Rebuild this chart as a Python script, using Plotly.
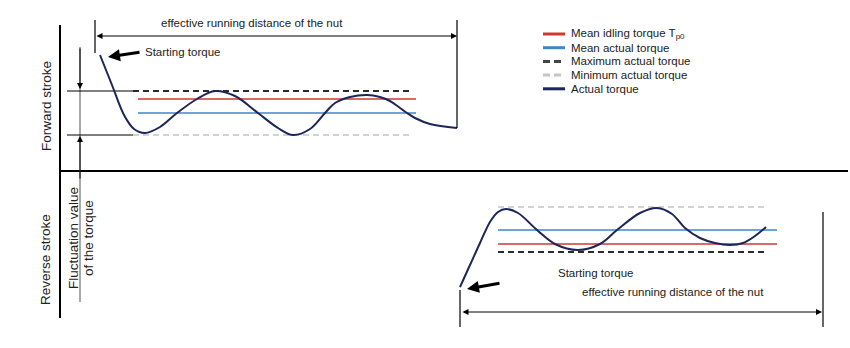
import plotly.graph_objects as go

FONT = "Liberation Sans, Arial, Helvetica, sans-serif"

# ---- data (schematic coordinates: x = travel, y measured downward) ----
fwd_x = [100, 112, 124, 134, 145, 160, 177, 197, 215, 235, 258, 278, 293, 310, 325, 335, 350, 367, 380, 390, 400, 407, 415, 430, 457]
fwd_y = [55, 85, 115, 129, 133, 127, 113, 99, 91, 96, 113, 128, 135, 129, 113, 103, 97, 95, 97, 101, 108, 113, 118, 124, 128]

rev_x = [460, 470, 480, 490, 498, 506, 518, 537, 555, 578, 600, 617, 640, 657, 672, 685, 700, 715, 730, 743, 755, 766]
rev_y = [287, 265, 243, 222, 212, 209, 213, 230, 244, 250, 244, 230, 213, 208, 214, 228, 238, 243, 245, 243, 236, 227]

# level lines: [x_start, x_end], level
fwd_max_x, fwd_max = [133, 412], 91
fwd_idle_x, fwd_idle = [138, 416], 99
fwd_mean_x, fwd_mean = [138, 416], 113
fwd_min_x, fwd_min = [133, 412], 135

rev_min_x, rev_min = [498, 767], 207
rev_mean_x, rev_mean = [498, 777], 230
rev_idle_x, rev_idle = [498, 777], 244
rev_max_x, rev_max = [498, 767], 252

legend_labels = ["Mean idling torque T<sub>p0</sub>", "Mean actual torque", "Maximum actual torque",
                 "Minimum actual torque", "Actual torque"]

RED = "#cc3a30"
BLUE = "#3f86c8"
NAVY = "#1d2658"
DARK = "#2a2a2a"
GREY = "#c4c4c4"
legend_colors = [RED, BLUE, "#444444", GREY, NAVY]
legend_dashes = ["solid", "solid", "dash", "dash", "solid"]

fig = go.Figure()


def line(x, y, color="black", width=1, dash="solid"):
    fig.add_trace(go.Scatter(x=x, y=y, mode="lines", showlegend=False, hoverinfo="skip",
                             line=dict(color=color, width=width, dash=dash)))


# frame axes
line([60, 60], [25, 318], width=2)
line([60, 848], [171, 171], width=2)

# fluctuation dimension
line([80, 80], [47, 302], color="#555555", width=1)
line([67, 133], [fwd_max, fwd_max], width=1)
line([67, 133], [fwd_min, fwd_min], width=1)

# forward level lines
line(fwd_max_x, [fwd_max] * 2, color=DARK, width=2, dash="6px,4px")
line(fwd_idle_x, [fwd_idle] * 2, color=RED, width=1.6)
line(fwd_mean_x, [fwd_mean] * 2, color=BLUE, width=1.6)
line(fwd_min_x, [fwd_min] * 2, color=GREY, width=1.6, dash="6px,4px")

# reverse level lines
line(rev_min_x, [rev_min] * 2, color=GREY, width=1.6, dash="6px,4px")
line(rev_mean_x, [rev_mean] * 2, color=BLUE, width=1.6)
line(rev_idle_x, [rev_idle] * 2, color=RED, width=1.6)
line(rev_max_x, [rev_max] * 2, color=DARK, width=2, dash="6px,4px")

# actual torque curves
fig.add_trace(go.Scatter(x=fwd_x, y=fwd_y, mode="lines", showlegend=False, hoverinfo="skip",
                         line=dict(color=NAVY, width=2, shape="spline", smoothing=1)))
fig.add_trace(go.Scatter(x=rev_x, y=rev_y, mode="lines", showlegend=False, hoverinfo="skip",
                         line=dict(color=NAVY, width=2, shape="spline", smoothing=1)))

# effective running distance markers
line([95, 95], [20, 53], width=1.2)
line([457, 457], [20, fwd_y[-1]], width=1.2)
line([460, 460], [290, 327], width=1.2)
line([823, 823], [212, 327], width=1.2)

annotations = []


def arrow(x, y, ax, ay, width=1, head=2, size=1, side="end", color="black"):
    annotations.append(dict(x=x, y=y, ax=ax, ay=ay, xref="x", yref="y", axref="x", ayref="y",
                            text="", showarrow=True, arrowhead=head, arrowsize=size,
                            arrowwidth=width, arrowcolor=color, arrowside=side,
                            startarrowhead=head, startarrowsize=size))


arrow(457, 36, 95, 36, width=1, head=2, size=1.2, side="end+start")
arrow(822, 312, 461, 312, width=1, head=2, size=1.2, side="end+start")
arrow(80, 89, 80, 47, width=1, head=2, size=1.2)
arrow(80, 136, 80, 180, width=1, head=2, size=1.2)
arrow(108, 57, 141, 52, width=3, head=2, size=0.8)
arrow(467, 289, 501, 283, width=3, head=2, size=0.8)


def text(x, y, s, size=11.5, angle=0, xanchor="left"):
    annotations.append(dict(x=x, y=y, xref="x", yref="y", text=s, showarrow=False,
                            xanchor=xanchor, yanchor="middle", textangle=angle,
                            font=dict(family=FONT, size=size, color="#222222")))


text(252, 23, "effective running distance of the nut", xanchor="center")
text(143, 52, "Starting torque")
text(556, 273, "Starting torque")
text(673, 292, "effective running distance of the nut", xanchor="center")
text(46, 106, "Forward stroke", size=13.5, angle=-90, xanchor="center")
text(45, 260, "Reverse stroke", size=13.5, angle=-90, xanchor="center")
text(73, 238, "Fluctuation value", size=13.5, angle=-90, xanchor="center")
text(88, 238, "of the torque", size=13.5, angle=-90, xanchor="center")

# legend (manual, compact)
for i, (lab, col, d) in enumerate(zip(legend_labels, legend_colors, legend_dashes)):
    yy = 34 + i * 13.7
    line([543, 565], [yy, yy], color=col, width=3, dash="7px,4px" if d == "dash" else "solid")
    text(569, yy, lab)

fig.update_layout(
    width=850, height=348, margin=dict(l=0, r=0, t=0, b=0),
    paper_bgcolor="white", plot_bgcolor="white",
    xaxis=dict(range=[0, 850], visible=False, fixedrange=True),
    yaxis=dict(range=[348, 0], visible=False, fixedrange=True),
    annotations=annotations, showlegend=False,
)

fig.write_html("out.html")
